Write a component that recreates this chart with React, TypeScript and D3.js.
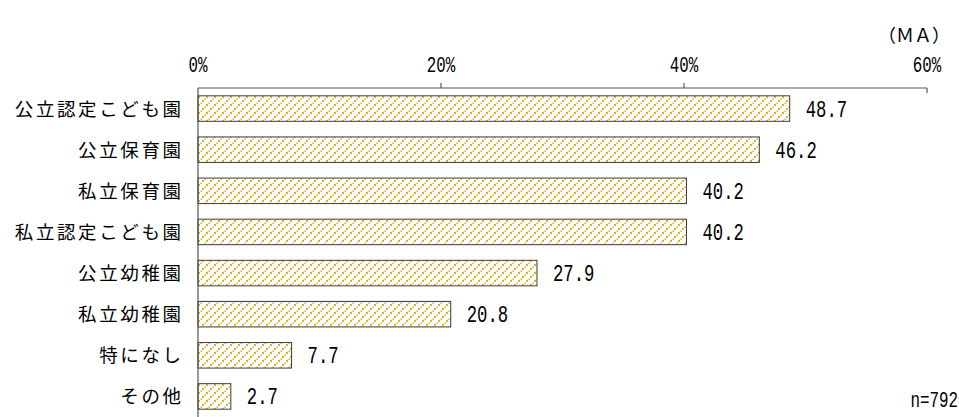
import React from "react";
import * as d3 from "d3";

const categories = ["公立認定こども園", "公立保育園", "私立保育園", "私立認定こども園", "公立幼稚園", "私立幼稚園", "特になし", "その他"];
const values = [48.7, 46.2, 40.2, 40.2, 27.9, 20.8, 7.7, 2.7];
const ticks = [0, 20, 40, 60];

const W = 959;
const H = 417;
const X0 = 198;
const X1 = 927;
const AXIS_Y = 88;

const mono = "'Liberation Mono', 'DejaVu Sans Mono', monospace";
const jp = "'Noto Sans CJK JP', sans-serif";

function NarrowText({ x, y, anchor, size, children }: { x: number; y: number; anchor?: string; size: number; children: React.ReactNode }) {
  return (
    <text transform={`translate(${x},${y}) scale(0.72,1)`} textAnchor={anchor || "start"} fontFamily={mono} fontSize={size} fill="#000">
      {children}
    </text>
  );
}

export default function App() {
  const x = d3.scaleLinear().domain([0, 60]).range([X0, X1]);
  const y = d3.scaleBand<string>().domain(categories).range([AXIS_Y, AXIS_Y + 329]).paddingInner(0.38).paddingOuter(0.19);
  return (
    <svg width={W} height={H} style={{ position: "absolute", left: 0, top: 0, background: "#fff" }}>
      <defs>
        <pattern id="pat" width={8} height={8} patternUnits="userSpaceOnUse">
          <rect width={8} height={8} fill="#fff" />
          <rect x={6} y={0} width={2} height={2} fill="#E2B21E" />
          <rect x={2} y={4} width={2} height={2} fill="#E2B21E" />
          <rect x={4.5} y={2.5} width={1.5} height={1.5} fill="#E2B21E" />
          <rect x={0.5} y={6.5} width={1.5} height={1.5} fill="#E2B21E" />
        </pattern>
      </defs>
      <text x={950} y={42} textAnchor="end" fontFamily={jp} fontSize={18} fill="#000">（ＭＡ）</text>
      {ticks.map((t) => (
        <NarrowText key={t} x={x(t)} y={72} anchor="middle" size={22}>{t}%</NarrowText>
      ))}
      <line x1={X0} x2={X1} y1={AXIS_Y} y2={AXIS_Y} stroke="#555" strokeWidth={1.2} />
      {ticks.filter((t) => t > 0 && t < 60).map((t) => (
        <line key={t} x1={x(t)} x2={x(t)} y1={AXIS_Y - 5} y2={AXIS_Y} stroke="#555" strokeWidth={1.2} />
      ))}
      <line x1={X1} x2={X1} y1={AXIS_Y} y2={AXIS_Y + 5} stroke="#555" strokeWidth={1.2} />
      {categories.map((c, i) => {
        const yy = y(c)!;
        const bw = y.bandwidth();
        return (
          <g key={c}>
            <rect x={X0} y={yy} width={x(values[i]) - X0} height={bw} fill="url(#pat)" stroke="#3a3a3a" strokeWidth={1} />
            <NarrowText x={x(values[i]) + 16} y={yy + bw / 2 + 8} size={24}>{values[i].toFixed(1)}</NarrowText>
            <text x={181 + 2.6} y={yy + bw / 2 + 7} textAnchor="end" fontFamily={jp} fontSize={18.5} letterSpacing={2.6} fill="#000">{c}</text>
          </g>
        );
      })}
      <line x1={X0} x2={X0} y1={AXIS_Y} y2={H} stroke="#555" strokeWidth={1.2} />
      <NarrowText x={958} y={407} anchor="end" size={22}>n=792</NarrowText>
    </svg>
  );
}
